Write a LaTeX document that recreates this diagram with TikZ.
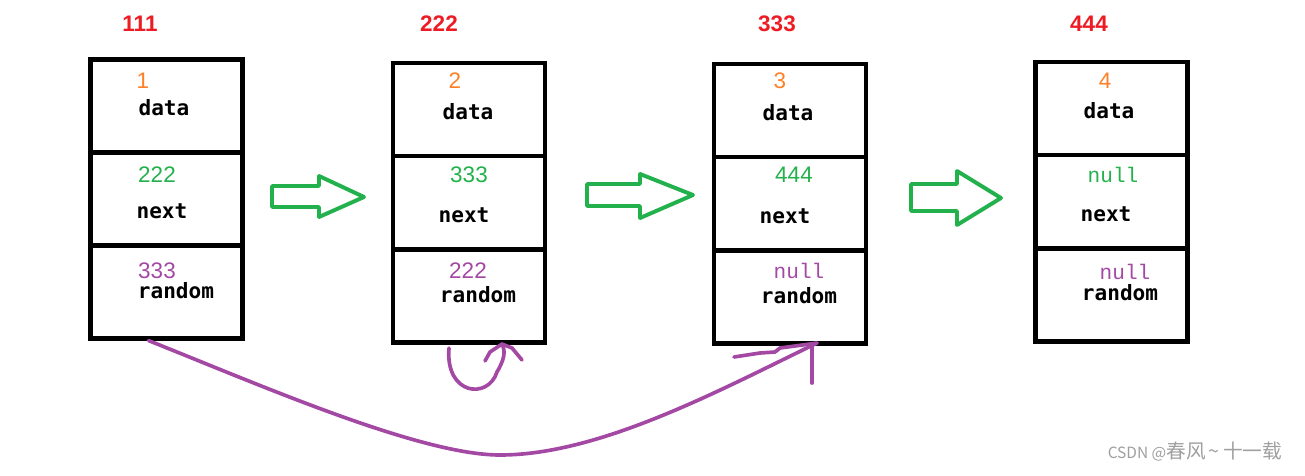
\documentclass[tikz,border=0pt]{standalone}
\usepackage{fontspec}
\setmainfont{Liberation Sans}
\newfontfamily\fieldfont{DejaVu Sans Mono}
\newfontfamily\nilfont{Liberation Mono}
\newfontfamily\cjkfont{Noto Sans CJK SC}
\definecolor{PaintRed}{RGB}{237,28,36}
\definecolor{PaintOrange}{RGB}{255,127,39}
\definecolor{PaintGreen}{RGB}{34,177,76}
\definecolor{PaintPurple}{RGB}{163,73,164}
\usetikzlibrary{positioning,calc}

\begin{document}
\begin{tikzpicture}[
        x=0.025cm, y=-0.025cm,
        cell/.style={rectangle, draw, line width=3.5pt, minimum width=3.8cm, minimum height=2.325cm, inner sep=0pt, outer sep=0pt},
        addr/.style={font=\bfseries\fontsize{16}{18}\selectfont, text=PaintRed, anchor=base},
        val/.style={font=\fontsize{16}{18}\selectfont, text=#1, anchor=base},
        nil/.style={font=\nilfont\fontsize{15}{18}\selectfont, text=#1, anchor=base},
        field/.style={font=\fieldfont\bfseries\fontsize{15}{18}\selectfont, anchor=base},
        blockarrow/.style={draw=PaintGreen, line width=2.8pt, line join=round},
        hand/.style={draw=PaintPurple, line width=2.6pt, line cap=round, line join=round},
    ]
    \useasboundingbox (0,0) rectangle (1305,475);

    % node 111
    \node[cell] (d1) at (166.5,106) {};
    \node[cell, below=0pt of d1] (n1) {};
    \node[cell, below=0pt of n1] (r1) {};
    \node[addr] (addr1) at (140,31) {111};
    \node[val=PaintOrange] (dv1) at (143,88) {1};
    \node[field] (dl1) at (164,115) {data};
    \node[val=PaintGreen] (nv1) at (157,182) {222};
    \node[field] (nl1) at (162,218) {next};
    \node[val=PaintPurple] (rv1) at (157,278) {333};
    \node[field] (rl1) at (176,298) {random};

    % node 222
    \node[cell] (d2) at (469,109.5) {};
    \node[cell, below=0pt of d2] (n2) {};
    \node[cell, below=0pt of n2] (r2) {};
    \node[addr] (addr2) at (439,31) {222};
    \node[val=PaintOrange] (dv2) at (455,88) {2};
    \node[field] (dl2) at (468,119) {data};
    \node[val=PaintGreen] (nv2) at (469,182) {333};
    \node[field] (nl2) at (464,222) {next};
    \node[val=PaintPurple] (rv2) at (468,278) {222};
    \node[field] (rl2) at (478,302) {random};

    % node 333
    \node[cell] (d3) at (790,110.5) {};
    \node[cell, below=0pt of d3] (n3) {};
    \node[cell, below=0pt of n3] (r3) {};
    \node[addr] (addr3) at (777,31) {333};
    \node[val=PaintOrange] (dv3) at (780,88) {3};
    \node[field] (dl3) at (788,120) {data};
    \node[val=PaintGreen] (nv3) at (794,182) {444};
    \node[field] (nl3) at (785,223) {next};
    \node[nil=PaintPurple] (rv3) at (799,278) {null};
    \node[field] (rl3) at (799,303) {random};

    % node 444
    \node[cell] (d4) at (1111.5,108.5) {};
    \node[cell, below=0pt of d4] (n4) {};
    \node[cell, below=0pt of n4] (r4) {};
    \node[addr] (addr4) at (1089,31) {444};
    \node[val=PaintOrange] (dv4) at (1105,88) {4};
    \node[field] (dl4) at (1109,118) {data};
    \node[nil=PaintGreen] (nv4) at (1113,182) {null};
    \node[field] (nl4) at (1106,221) {next};
    \node[nil=PaintPurple] (rv4) at (1125,279) {null};
    \node[field] (rl4) at (1120,300) {random};

    % copy steps
    \draw[blockarrow] (272,186) -- (319,186) -- (319,176) -- (364,197) -- (319,217) -- (319,207) -- (272,207) -- cycle;
    \draw[blockarrow] (587,184) -- (640,184) -- (640,174) -- (693,195) -- (640,218) -- (640,206) -- (587,206) -- cycle;
    \draw[blockarrow] (911,184) -- (957,184) -- (957,171) -- (1001,198) -- (957,225) -- (957,211) -- (911,211) -- cycle;

    % random pointers
    \coordinate (tip3) at ($(r3.south)+(27,0)$);
    \draw[hand] ($(r1.south)+(-18,2)$) .. controls (260,385) and (420,455) .. (500,455) .. controls (600,455) and (720,390) .. (tip3);
    \draw[hand] (tip3) -- (780,348) -- (775,352) -- (760,353) -- (734,357);
    \draw[hand] ($(tip3)+(-5,2)$) -- ++(0,38);

    \coordinate (tip2) at ($(r2.south)+(33,2)$);
    \draw[hand] ($(r2.south)+(-20,6)$) .. controls (445,395) and (488,400) .. (497,372) .. controls (504,360) and (506,352) .. (tip2);
    \draw[hand] (485,361) -- (490,352) -- (tip2) -- (512,348) -- (522,360);

    \node[text=gray!75, anchor=base, font=\cjkfont\fontsize{11}{13}\selectfont] (mark) at (1195,458) {CSDN @{\fontsize{14}{15}\selectfont 春风\,\textasciitilde\,十一载}};
\end{tikzpicture}
\end{document}
